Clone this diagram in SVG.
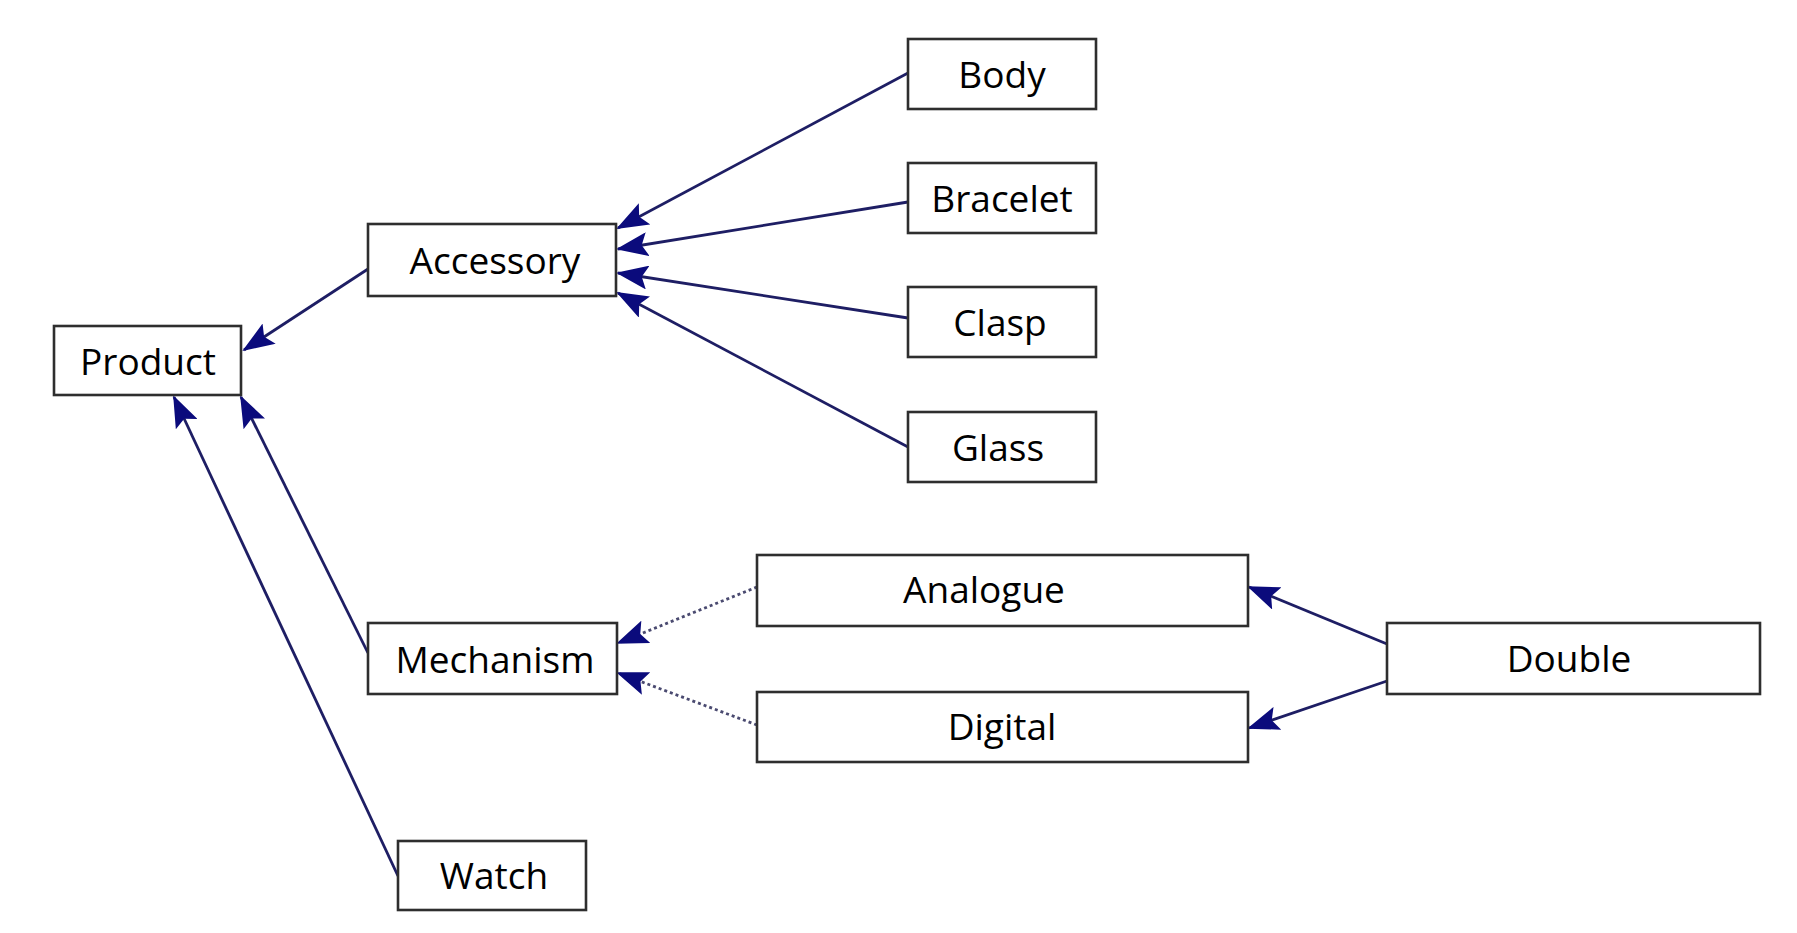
<svg xmlns="http://www.w3.org/2000/svg" width="1797" height="933" viewBox="0 0 1797 933">
<defs>
<style>
.box{fill:#ffffff;stroke:#2e2e2e;stroke-width:2.6}
.lbl{font-family:"Open Sans","Noto Sans",sans-serif;font-size:37px;fill:#000000;text-anchor:middle}
.edge{fill:none;stroke:#1e1e64;stroke-width:2.8;marker-end:url(#arr)}
.dot{fill:none;stroke:#4a4a70;stroke-width:2.8;stroke-dasharray:3 3;marker-end:url(#arr)}
</style>
<marker id="arr" viewBox="0 0 32 24" refX="30" refY="12" markerWidth="32" markerHeight="24" markerUnits="userSpaceOnUse" orient="auto">
<path d="M0,0 L32,12 L0,24 L6,12 z" fill="#0b0b7c"/>
</marker>
</defs>
<rect width="1797" height="933" fill="#ffffff"/>
<g id="connectors">
<line class="edge" x1="368" y1="269" x2="244" y2="350"/>
<line class="edge" x1="908" y1="73" x2="618" y2="228"/>
<line class="edge" x1="908" y1="202" x2="618" y2="249"/>
<line class="edge" x1="908" y1="318" x2="618" y2="273"/>
<line class="edge" x1="908" y1="447" x2="618" y2="293"/>
<line class="edge" x1="368" y1="653" x2="241" y2="397"/>
<line class="edge" x1="398" y1="876" x2="174" y2="397"/>
<line class="dot" x1="757" y1="587" x2="618" y2="643"/>
<line class="dot" x1="757" y1="725" x2="618" y2="673"/>
<line class="edge" x1="1387" y1="644" x2="1249" y2="587"/>
<line class="edge" x1="1387" y1="681" x2="1249" y2="728"/>
</g>
<g id="product"><rect class="box" x="54" y="326" width="187" height="69"/><text class="lbl" x="148" y="375">Product</text></g>
<g id="accessory"><rect class="box" x="368" y="224" width="248" height="72"/><text class="lbl" x="495" y="274">Accessory</text></g>
<g id="body"><rect class="box" x="908" y="39" width="188" height="70"/><text class="lbl" x="1002" y="88">Body</text></g>
<g id="bracelet"><rect class="box" x="908" y="163" width="188" height="70"/><text class="lbl" x="1002" y="212">Bracelet</text></g>
<g id="clasp"><rect class="box" x="908" y="287" width="188" height="70"/><text class="lbl" x="1000" y="336">Clasp</text></g>
<g id="glass"><rect class="box" x="908" y="412" width="188" height="70"/><text class="lbl" x="998" y="461">Glass</text></g>
<g id="mechanism"><rect class="box" x="368" y="623" width="249" height="71"/><text class="lbl" x="495" y="673">Mechanism</text></g>
<g id="analogue"><rect class="box" x="757" y="555" width="491" height="71"/><text class="lbl" x="984" y="603">Analogue</text></g>
<g id="digital"><rect class="box" x="757" y="692" width="491" height="70"/><text class="lbl" x="1002" y="740">Digital</text></g>
<g id="double"><rect class="box" x="1387" y="623" width="373" height="71"/><text class="lbl" x="1569" y="672">Double</text></g>
<g id="watch"><rect class="box" x="398" y="841" width="188" height="69"/><text class="lbl" x="494" y="889">Watch</text></g>
</svg>
